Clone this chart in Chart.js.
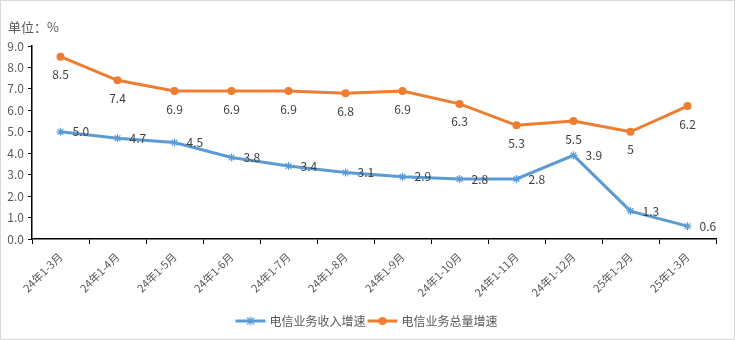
<!DOCTYPE html>
<html>
<head>
<meta charset="utf-8">
<script src="https://cdn.jsdelivr.net/npm/chart.js@4"></script>
<style>
    html, body { margin: 0; padding: 0; background: #fff; }
    #wrap { width: 735px; height: 340px; position: relative; }
</style>
</head>
<body>
<div id="wrap"><canvas id="chart"></canvas></div>
<script>
const months = ["24年1-3月", "24年1-4月", "24年1-5月", "24年1-6月", "24年1-7月", "24年1-8月",
    "24年1-9月", "24年1-10月", "24年1-11月", "24年1-12月", "25年1-2月", "25年1-3月"];
const revenueGrowth = [5.0, 4.7, 4.5, 3.8, 3.4, 3.1, 2.9, 2.8, 2.8, 3.9, 1.3, 0.6];
const volumeGrowth = [8.5, 7.4, 6.9, 6.9, 6.9, 6.8, 6.9, 6.3, 5.3, 5.5, 5, 6.2];
const yTicks = [0, 1, 2, 3, 4, 5, 6, 7, 8, 9];

const BLUE = "#5b9bd5";
const ORANGE = "#ed7d31";
const FONT = "'Noto Sans CJK SC', 'Noto Sans', sans-serif";

function legendIcon(color, style) {
    const c = document.createElement("canvas");
    c.width = 34;
    c.height = 12;
    const g = c.getContext("2d");
    g.strokeStyle = color;
    g.fillStyle = color;
    g.lineWidth = 3;
    g.beginPath();
    g.moveTo(2, 6);
    g.lineTo(32, 6);
    g.stroke();
    if (style === "circle") {
        g.beginPath();
        g.arc(17, 6, 4, 0, Math.PI * 2);
        g.fill();
    } else {
        g.lineWidth = 1.2;
        g.beginPath();
        g.moveTo(13.5, 2.5); g.lineTo(20.5, 9.5);
        g.moveTo(20.5, 2.5); g.lineTo(13.5, 9.5);
        g.moveTo(17, 1.5); g.lineTo(17, 10.5);
        g.stroke();
    }
    return c;
}

// data labels + unit text + outer border
const extras = {
    id: "extras",
    afterDatasetsDraw(chart) {
        const ctx = chart.ctx;
        ctx.save();
        ctx.font = "12px " + FONT;
        ctx.fillStyle = "#404040";
        ctx.textBaseline = "middle";

        chart.getDatasetMeta(0).data.forEach((pt, i) => {
            ctx.textAlign = "left";
            ctx.fillText(revenueGrowth[i].toFixed(1), pt.x + 12, pt.y);
        });
        chart.getDatasetMeta(1).data.forEach((pt, i) => {
            ctx.textAlign = "center";
            ctx.fillText(String(volumeGrowth[i]), pt.x, pt.y + 18);
        });

        ctx.font = "13px " + FONT;
        ctx.fillStyle = "#595959";
        ctx.textAlign = "left";
        ctx.fillText("单位：%", 8, 27);

        ctx.strokeStyle = "#d9d9d9";
        ctx.lineWidth = 1;
        ctx.strokeRect(0.5, 0.5, chart.width - 1, chart.height - 1);
        ctx.restore();
    }
};

new Chart(document.getElementById("chart"), {
    type: "line",
    data: {
        labels: months,
        datasets: [{
            label: "电信业务收入增速",
            data: revenueGrowth,
            borderColor: BLUE,
            backgroundColor: BLUE,
            borderWidth: 3,
            pointStyle: "star",
            pointRadius: 4,
            pointBorderWidth: 1.2,
            tension: 0
        }, {
            label: "电信业务总量增速",
            data: volumeGrowth,
            borderColor: ORANGE,
            backgroundColor: ORANGE,
            borderWidth: 3,
            pointStyle: "circle",
            pointRadius: 4,
            pointBorderWidth: 0,
            tension: 0
        }]
    },
    options: {
        animation: false,
        responsive: true,
        maintainAspectRatio: false,
        layout: { padding: { top: 46, right: 0, left: 0, bottom: 3 } },
        plugins: {
            tooltip: { enabled: false },
            legend: {
                position: "bottom",
                labels: {
                    usePointStyle: true,
                    pointStyleWidth: 26,
                    color: "#595959",
                    font: { size: 12, family: FONT },
                    padding: 4,
                    generateLabels(chart) {
                        return chart.data.datasets.map((ds, i) => ({
                            text: ds.label,
                            datasetIndex: i,
                            fontColor: "#595959",
                            lineWidth: 0,
                            strokeStyle: ds.borderColor,
                            fillStyle: ds.borderColor,
                            pointStyle: legendIcon(ds.borderColor, ds.pointStyle)
                        }));
                    }
                }
            }
        },
        scales: {
            x: {
                offset: true,
                grid: { display: true, drawOnChartArea: false, drawTicks: true, tickLength: 5, offset: true, color: "#000" },
                border: { display: true, color: "#000", width: 1.5 },
                ticks: {
                    color: "#595959",
                    font: { size: 11, family: FONT },
                    maxRotation: 45,
                    minRotation: 45,
                    autoSkip: false,
                    padding: 6
                },
                afterFit(scale) { scale.height = 72; }
            },
            y: {
                min: 0,
                max: 9,
                afterBuildTicks(scale) { scale.ticks = yTicks.map(v => ({ value: v })); },
                grid: { display: true, drawOnChartArea: false, drawTicks: true, tickLength: 4, color: "#000" },
                border: { display: true, color: "#000", width: 1.5 },
                ticks: {
                    color: "#595959",
                    font: { size: 12, family: FONT },
                    padding: 4,
                    callback: v => v.toFixed(1)
                },
                afterFit(scale) { scale.width = 32; }
            },
            // empty right-hand spacer so the legend stays centred on the canvas
            yRight: {
                position: "right",
                min: 0,
                max: 9,
                grid: { display: false },
                border: { display: false },
                ticks: { display: false },
                afterFit(scale) { scale.width = 19; }
            }
        }
    },
    plugins: [extras]
});
</script>
</body>
</html>
